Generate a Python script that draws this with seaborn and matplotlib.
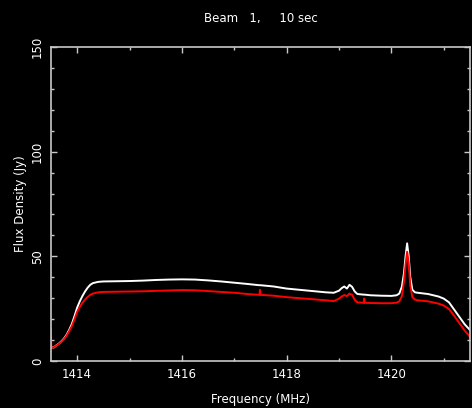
import matplotlib
matplotlib.use("Agg")
import matplotlib.pyplot as plt
from matplotlib.ticker import MultipleLocator
import seaborn as sns
import pandas as pd

title = "Beam   1,     10 sec"
x_label = "Frequency (MHz)"
y_label = "Flux Density (Jy)"

freq = [1413.50, 1413.505, 1413.55, 1413.60, 1413.65, 1413.70, 1413.75, 1413.80, 1413.85,
        1413.90, 1413.95, 1414.00, 1414.05, 1414.10, 1414.15, 1414.20, 1414.25, 1414.30,
        1414.40, 1414.50, 1414.75, 1415.00, 1415.25, 1415.50, 1415.75, 1416.00, 1416.25,
        1416.50, 1416.75, 1417.00, 1417.25, 1417.48, 1417.49, 1417.50, 1417.75, 1418.00,
        1418.25, 1418.50, 1418.75, 1418.90, 1419.00, 1419.05, 1419.10, 1419.15, 1419.20,
        1419.25, 1419.30, 1419.35, 1419.47, 1419.48, 1419.49, 1419.60, 1419.80, 1420.00,
        1420.10, 1420.15, 1420.20, 1420.24, 1420.27, 1420.30, 1420.33, 1420.36, 1420.40,
        1420.45, 1420.50, 1420.70, 1420.90, 1421.00, 1421.10, 1421.20, 1421.30, 1421.40,
        1421.50]
white = [6.6, 6.6, 6.4, 7.4, 8.3, 9.4, 10.8, 12.6, 15.0,
         17.8, 21.5, 25.5, 28.5, 31.0, 33.2, 35.0, 36.4, 37.2,
         37.8, 38.0, 38.1, 38.2, 38.4, 38.7, 38.9, 39.0, 38.9,
         38.5, 38.0, 37.4, 36.8, 36.2, 36.2, 36.2, 35.6, 34.6,
         34.0, 33.4, 32.8, 32.6, 33.6, 34.8, 35.6, 34.6, 36.4,
         35.4, 33.2, 32.0, 31.7, 31.7, 31.7, 31.4, 31.2, 31.1,
         31.4, 32.2, 35.5, 42.0, 50.0, 56.2, 50.0, 40.0, 34.0,
         32.8, 32.6, 32.0, 30.8, 29.8, 28.0, 24.5, 21.0, 17.5,
         14.8]
red = [15.5, 6.6, 6.4, 7.3, 8.2, 9.2, 10.5, 12.2, 14.4,
       16.8, 20.0, 23.5, 25.8, 27.8, 29.3, 30.6, 31.6, 32.2,
       32.8, 33.0, 33.1, 33.2, 33.3, 33.5, 33.7, 33.9, 33.8,
       33.4, 33.0, 32.6, 32.0, 31.6, 34.0, 31.6, 31.2, 30.5,
       30.0, 29.5, 29.0, 28.6, 29.8, 30.8, 31.5, 31.0, 32.2,
       31.6, 29.2, 28.0, 27.8, 29.8, 27.8, 27.7, 27.6, 27.6,
       27.9, 28.5, 31.0, 38.0, 46.0, 52.2, 47.0, 36.0, 30.5,
       29.3, 29.0, 28.5, 27.4, 26.5, 24.8, 21.5, 18.0, 14.5,
       11.6]

df = pd.DataFrame({"freq": freq, "white": white, "red": red})

sns.set_theme(style="dark")
fg = "#ffffff"
frame = "#c8c8c8"
plt.rcParams.update({
    "figure.facecolor": "black",
    "axes.facecolor": "black",
    "savefig.facecolor": "black",
    "axes.edgecolor": frame,
    "axes.linewidth": 1.2,
    "text.color": fg,
    "axes.labelcolor": fg,
    "xtick.color": frame,
    "ytick.color": frame,
    "xtick.labelcolor": fg,
    "ytick.labelcolor": fg,
    "axes.grid": False,
})
plt.rcParams["font.family"] = ["DejaVu Sans"]

fig = plt.figure(figsize=(4.72, 4.08), dpi=100)
ax = fig.add_axes([0.108, 0.1152, 0.8877, 0.7696])

sns.lineplot(data=df, x="freq", y="white", ax=ax, color="white", linewidth=1.4,
             sort=False, estimator=None)
sns.lineplot(data=df, x="freq", y="red", ax=ax, color="#ff0000", linewidth=1.4,
             sort=False, estimator=None)

ax.set_xlim(1413.5, 1421.5)
ax.set_ylim(0, 150)
ax.xaxis.set_major_locator(MultipleLocator(2))
ax.xaxis.set_minor_locator(MultipleLocator(1))
ax.yaxis.set_major_locator(MultipleLocator(50))
ax.yaxis.set_minor_locator(MultipleLocator(10))
ax.tick_params(which="both", direction="in", top=True, right=True,
               bottom=True, left=True, width=1.0)
ax.tick_params(which="major", length=4.5, labelsize=8.5, pad=5)
ax.tick_params(which="minor", length=2.2)
for lbl in ax.get_yticklabels():
    lbl.set_rotation(90)
    lbl.set_va("center")
for sp in ax.spines.values():
    sp.set_visible(True)
    sp.set_color(frame)

ax.set_xlabel(x_label, fontsize=8.5, labelpad=9)
ax.set_ylabel(y_label, fontsize=8.5, labelpad=3)
ax.set_title(title, fontsize=8.5, pad=18, color=fg)

fig.savefig("out.png", dpi=100, facecolor="black")
